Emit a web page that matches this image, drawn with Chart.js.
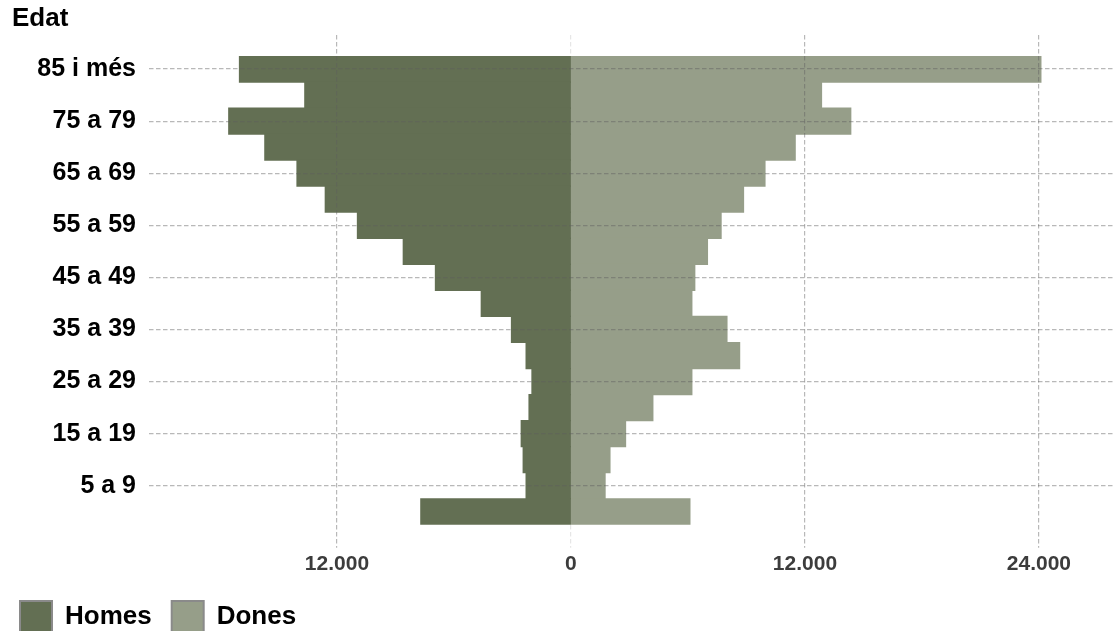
<!DOCTYPE html>
<html>
<head>
<meta charset="utf-8">
<title>Piràmide de població</title>
<script src="https://cdn.jsdelivr.net/npm/chart.js@4.4.1/dist/chart.umd.min.js"></script>
<style>
  html, body { margin: 0; padding: 0; overflow: hidden; background: #fff; }
  #wrap { position: relative; width: 1114px; height: 643px; }
  #edat {
    position: absolute; left: 12px; top: 2px;
    font: bold 26px 'Liberation Sans', Arial, sans-serif;
    line-height: 30px; color: #000;
  }
</style>
</head>
<body>
<div id="wrap">
  <div id="edat">Edat</div>
  <canvas id="piramide"></canvas>
</div>
<script>
// grups d'edat, de dalt a baix
const ageGroups = ['85 i més', '80 a 84', '75 a 79', '70 a 74', '65 a 69', '60 a 64',
  '55 a 59', '50 a 54', '45 a 49', '40 a 44', '35 a 39', '30 a 34',
  '25 a 29', '20 a 24', '15 a 19', '10 a 14', '5 a 9', '0 a 4'];

const homes = [17000, 13650, 17550, 15700, 14050, 12600, 10950, 8600, 6950,
  4600, 3050, 2300, 2000, 2150, 2550, 2450, 2300, 7700];

const dones = [24100, 12850, 14350, 11500, 9950, 8850, 7700, 7000, 6350,
  6200, 8000, 8650, 6200, 4200, 2800, 2000, 1750, 6100];

const xTicks = [-12000, 0, 12000, 24000];

const FONT = "'Liberation Sans', Arial, sans-serif";
const gridColor = 'rgba(93, 93, 93, 0.44)';
const zeroColor = 'rgba(200, 200, 200, 0.45)';
const dash = [4.5, 2.5];

const fmt = v => String(Math.abs(v)).replace(/\B(?=(\d{3})+(?!\d))/g, '.');
const setXTicks = scale => { scale.ticks = xTicks.map(v => ({ value: v })); };
const isZero = c => c.tick && c.tick.value === 0;
// the zero line only shows outside the bars
const tickColor = c => (isZero(c) ? zeroColor : gridColor);
const lineColor = c => (isZero(c) ? 'rgba(0, 0, 0, 0)' : gridColor);

const ctx = document.getElementById('piramide').getContext('2d');

new Chart(ctx, {
  type: 'bar',
  data: {
    labels: ageGroups,
    datasets: [
      {
        label: 'Homes',
        data: homes.map(v => -v),
        backgroundColor: '#636f53',
        borderWidth: 0
      },
      {
        label: 'Dones',
        data: dones,
        backgroundColor: '#969e89',
        borderWidth: 0
      }
    ]
  },
  options: {
    indexAxis: 'y',
    responsive: true,
    maintainAspectRatio: false,
    animation: false,
    layout: { padding: { top: 35, left: 0, right: 0, bottom: 0 } },
    datasets: {
      bar: { categoryPercentage: 1, barPercentage: 1, inflateAmount: 0.6 }
    },
    scales: {
      x: {
        type: 'linear',
        stacked: true,
        min: -21640,
        max: 27850,
        afterBuildTicks: setXTicks,
        border: { display: false, dash: dash },
        grid: {
          z: 1,
          color: lineColor,
          tickColor: tickColor,
          lineWidth: 1.2,
          tickBorderDash: dash,
          tickLength: 23
        },
        ticks: {
          padding: 4,
          color: '#3c3c3c',
          font: { family: FONT, size: 21, weight: 'bold' },
          callback: v => fmt(v)
        }
      },
      x2: {
        type: 'linear',
        axis: 'x',
        position: 'top',
        min: -21640,
        max: 27850,
        afterBuildTicks: setXTicks,
        border: { display: false, dash: dash },
        grid: {
          drawOnChartArea: false,
          color: tickColor,
          lineWidth: 1.2,
          tickBorderDash: dash,
          tickLength: 21
        },
        ticks: { display: false }
      },
      y: {
        type: 'category',
        stacked: true,
        afterBuildTicks: scale => {
          scale.ticks = scale.ticks.filter(t => t.value % 2 === 0);
        },
        afterFit: scale => { scale.width = 149; },
        border: { display: false, dash: dash },
        grid: {
          z: 1,
          offset: false,
          drawTicks: false,
          color: gridColor,
          lineWidth: 1.2
        },
        ticks: {
          autoSkip: false,
          padding: 13,
          color: '#000',
          font: { family: FONT, size: 25, weight: 'bold' }
        }
      }
    },
    plugins: {
      tooltip: { enabled: false },
      legend: {
        position: 'bottom',
        align: 'start',
        labels: {
          boxWidth: 32,
          boxHeight: 32,
          padding: 20,
          color: '#000',
          font: { family: FONT, size: 26, weight: 'bold' },
          generateLabels: chart =>
            Chart.defaults.plugins.legend.labels.generateLabels(chart).map(item => ({
              ...item,
              strokeStyle: '#8a8a8a',
              lineWidth: 2
            }))
        }
      }
    }
  }
});
</script>
</body>
</html>
